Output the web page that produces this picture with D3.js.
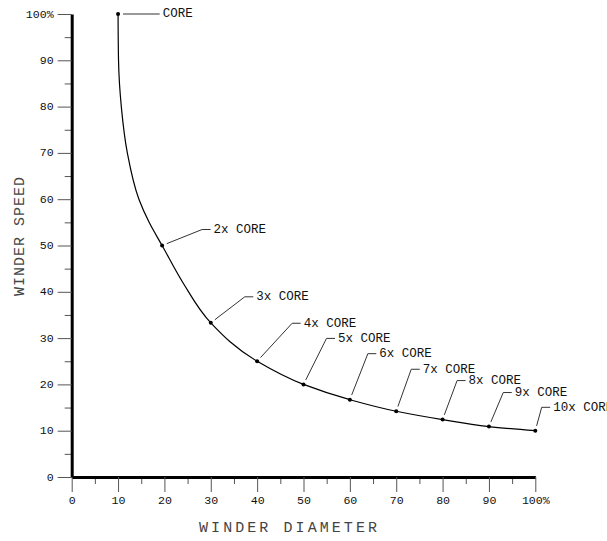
<!DOCTYPE html>
<html>
<head>
<meta charset="utf-8">
<script src="https://cdn.jsdelivr.net/npm/d3@7"></script>
<style>
  body { margin: 0; background: #fff; }
  text { font-family: "Liberation Mono", "DejaVu Sans Mono", monospace; fill: #111; }
  .tick line { stroke: #555; }
  .domain { stroke: #000; }
</style>
</head>
<body>
<div class="chart"></div>
<script>
var svgWidth = 607
var svgHeight = 541

// tick values and labels
var xTicks = [0, 10, 20, 30, 40, 50, 60, 70, 80, 90, 100];
var xTickLabels = ["0", "10", "20", "30", "40", "50", "60", "70", "80", "90", "100%"];
var yTicks = [0, 10, 20, 30, 40, 50, 60, 70, 80, 90, 100];
var yTickLabels = ["0", "10", "20", "30", "40", "50", "60", "70", "80", "90", "100%"];
var minorTicks = [5, 15, 25, 35, 45, 55, 65, 75, 85, 95];

// marked points (diameter %, speed %)
var markerDiameter = [10, 19.5, 30, 40, 50, 60, 70, 80, 90, 100];
var markerSpeed = [100, 50, 33.3, 25, 20, 16.7, 14.2, 12.4, 10.9, 10];
var markerLabels = ["CORE", "2x CORE", "3x CORE", "4x CORE", "5x CORE",
    "6x CORE", "7x CORE", "8x CORE", "9x CORE", "10x CORE"];

// curve
var curveDiameter = [10, 10.1, 10.7, 12.0, 14.5, 16.7, 19.5, 24.1, 30, 40, 50, 60, 70, 80, 90, 100];
var curveSpeed = [100, 90, 80, 70, 60, 55, 50, 41.8, 33.3, 25, 20, 16.7, 14.2, 12.4, 10.9, 10];

var xTitle = "WINDER DIAMETER";
var yTitle = "WINDER SPEED";

var margin = {
    top: 14,
    right: 71.7,
    bottom: 64,
    left: 71.7
};

var width = svgWidth - margin.left - margin.right;
var height = svgHeight - margin.top - margin.bottom;

// leader layout: elbow offset from the point (px) and arm length
var calloutElbow = [[5, 0], [40, -16], [34, -26], [35, -38], [23, -46],
    [18, -46], [15, -42], [14.5, -39], [14.3, -34], [6.4, -23.4]];
var calloutArm = [36.6, 8.5, 8.5, 8.5, 8.5, 8.5, 8.5, 8.5, 8.5, 8.5];

var svg = d3.select(".chart")
    .append("svg")
    .attr("width", svgWidth)
    .attr("height", svgHeight);

var chartGroup = svg.append("g")
    .attr("transform", `translate(${margin.left}, ${margin.top})`);

var xLinearScale = d3.scaleLinear()
    .domain([0, 100])
    .range([0, width]);

var yLinearScale = d3.scaleLinear()
    .domain([0, 100])
    .range([height, 0]);

// minor ticks first, under the major axes
chartGroup.append("g")
    .attr("transform", `translate(0, ${height})`)
    .call(d3.axisBottom(xLinearScale).tickValues(minorTicks).tickSize(7).tickFormat(""))
    .call(g => g.select(".domain").remove());

chartGroup.append("g")
    .call(d3.axisLeft(yLinearScale).tickValues(minorTicks).tickSize(7).tickFormat(""))
    .call(g => g.select(".domain").remove());

var bottomAxis = d3.axisBottom(xLinearScale)
    .tickValues(xTicks)
    .tickSize(15)
    .tickSizeOuter(0)
    .tickPadding(4)
    .tickFormat((d, i) => xTickLabels[i]);

var leftAxis = d3.axisLeft(yLinearScale)
    .tickValues(yTicks)
    .tickSize(14)
    .tickSizeOuter(0)
    .tickPadding(4)
    .tickFormat((d, i) => yTickLabels[i]);

var xAxis = chartGroup.append("g")
    .classed("x-axis", true)
    .attr("transform", `translate(0, ${height})`)
    .call(bottomAxis);

var yAxis = chartGroup.append("g")
    .classed("y-axis", true)
    .call(leftAxis);

xAxis.selectAll("text")
    .attr("font-family", null)
    .attr("font-size", null)
    .style("font-size", "11.6px")
    .attr("dy", null)
    .attr("y", 23.5)
    .attr("dominant-baseline", "middle");

yAxis.selectAll("text")
    .attr("font-family", null)
    .attr("font-size", null)
    .style("font-size", "11.6px")
    .attr("dy", null)
    .attr("dominant-baseline", "middle");

svg.selectAll(".domain")
    .attr("stroke-width", 3);

// the curve
var curvePoints = curveDiameter.map((d, i) => [d, curveSpeed[i]]);

var line = d3.line()
    .x(d => xLinearScale(d[0]))
    .y(d => yLinearScale(d[1]))
    .curve(d3.curveMonotoneY);

chartGroup.append("path")
    .datum(curvePoints)
    .attr("d", line)
    .attr("fill", "none")
    .attr("stroke", "#000")
    .attr("stroke-width", 1.2);

var markers = markerDiameter.map((d, i) => ({
    diameter: d,
    speed: markerSpeed[i],
    label: markerLabels[i],
    elbow: calloutElbow[i],
    arm: calloutArm[i]
}));

var calloutGroup = chartGroup.selectAll(".callout")
    .data(markers)
    .enter()
    .append("g")
    .classed("callout", true)
    .attr("transform", d => `translate(${xLinearScale(d.diameter)}, ${yLinearScale(d.speed)})`);

calloutGroup.append("path")
    .attr("d", function(d) {
        var ex = d.elbow[0], ey = d.elbow[1];
        var len = Math.sqrt(ex * ex + ey * ey);
        var sx = ex / len * 5, sy = ey / len * 5;
        return `M${sx},${sy}L${ex},${ey}H${ex + d.arm}`;
    })
    .attr("fill", "none")
    .attr("stroke", "#333")
    .attr("stroke-width", 1);

calloutGroup.append("text")
    .attr("x", d => d.elbow[0] + d.arm + 3)
    .attr("y", d => d.elbow[1])
    .attr("dominant-baseline", "middle")
    .style("font-size", "12.5px")
    .text(d => d.label);

calloutGroup.append("circle")
    .attr("r", 2)
    .attr("fill", "#000");

// axis titles
svg.append("text")
    .attr("x", 199)
    .attr("y", 528)
    .attr("dominant-baseline", "middle")
    .attr("textLength", 178)
    .attr("lengthAdjust", "spacing")
    .style("font-size", "15px")
    .style("fill", "#444")
    .text(xTitle);

svg.append("text")
    .attr("transform", "translate(20, 296) rotate(-90)")
    .attr("dominant-baseline", "middle")
    .attr("textLength", 119)
    .attr("lengthAdjust", "spacing")
    .style("font-size", "15px")
    .style("fill", "#444")
    .text(yTitle);
</script>
</body>
</html>
